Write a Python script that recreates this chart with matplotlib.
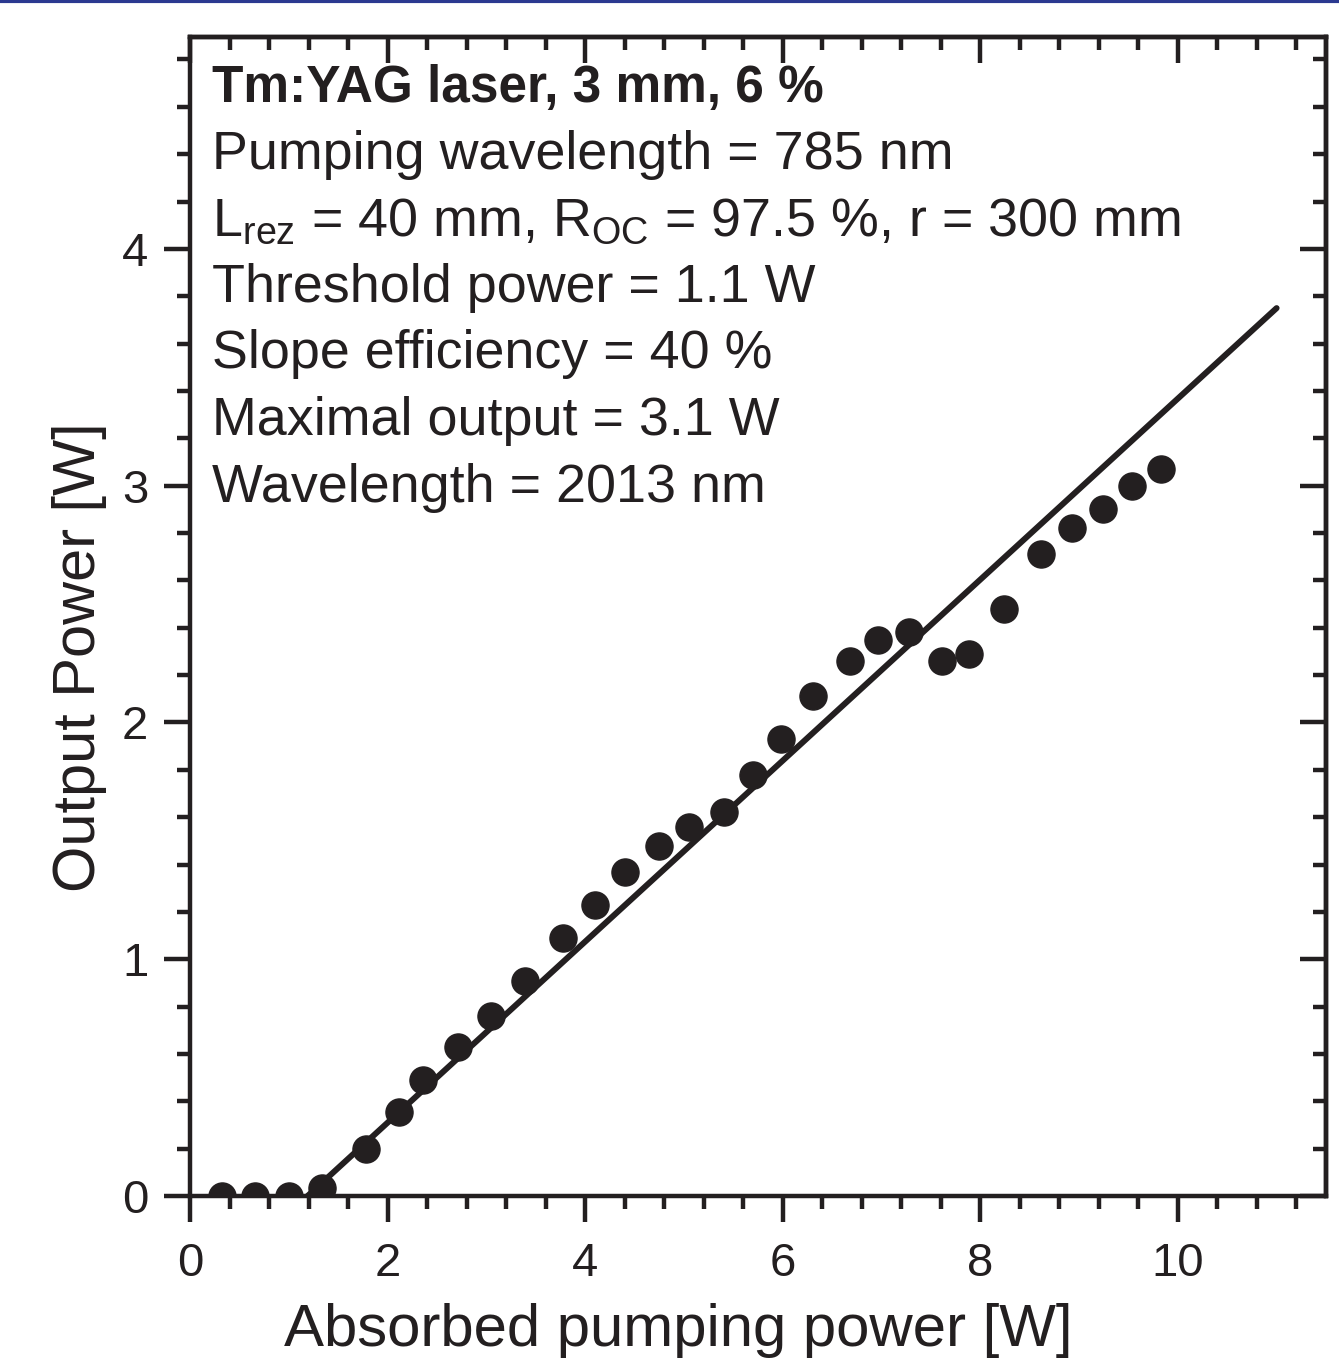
import matplotlib
matplotlib.use('Agg')
import matplotlib.pyplot as plt
from matplotlib.ticker import MultipleLocator
from matplotlib.lines import Line2D

plt.rcParams['font.family'] = ['Liberation Sans', 'DejaVu Sans']
plt.rcParams['mathtext.fontset'] = 'custom'
plt.rcParams['mathtext.rm'] = 'Liberation Sans'
plt.rcParams['mathtext.it'] = 'Liberation Sans:italic'

# measured points
p_abs = [0.32, 0.66, 1.0, 1.34, 1.78, 2.12, 2.36, 2.71, 3.05, 3.39, 3.78, 4.10,
         4.40, 4.75, 5.05, 5.41, 5.70, 5.98, 6.31, 6.68, 6.96, 7.28, 7.61, 7.89,
         8.24, 8.61, 8.93, 9.24, 9.54, 9.83]
p_out = [0.0, 0.0, 0.0, 0.035, 0.20, 0.355, 0.49, 0.63, 0.76, 0.91, 1.09, 1.23,
         1.37, 1.48, 1.56, 1.62, 1.78, 1.93, 2.11, 2.26, 2.35, 2.38, 2.26, 2.29,
         2.48, 2.71, 2.82, 2.90, 3.00, 3.07]

# linear fit
fit_x = [1.19, 11.0]
fit_y = [0.0, 3.75]

info = ['Pumping wavelength = 785 nm',
        r'L$_{\mathregular{rez}}$ = 40 mm, R$_{\mathregular{OC}}$ = 97.5 %, r = 300 mm',
        'Threshold power = 1.1 W',
        'Slope efficiency = 40 %',
        'Maximal output = 3.1 W',
        'Wavelength = 2013 nm']

ink = '#231f20'

fig = plt.figure(figsize=(13.39, 13.61), dpi=100)
ax = fig.add_axes([190/1339, 1 - 1196/1361, (1326-190)/1339, (1196-37)/1361])

ax.plot(fit_x, fit_y, color=ink, lw=4.3, solid_capstyle='round', zorder=2)
ax.plot(p_abs, p_out, 'o', color=ink, ms=19.5, zorder=3)

ax.set_xlim(0, 11.5)
ax.set_ylim(0, 4.895)
ax.xaxis.set_major_locator(MultipleLocator(2))
ax.xaxis.set_minor_locator(MultipleLocator(0.4))
ax.yaxis.set_major_locator(MultipleLocator(1))
ax.yaxis.set_minor_locator(MultipleLocator(0.2))

for s in ax.spines.values():
    s.set_linewidth(3.2)
    s.set_color(ink)

ax.tick_params(which='both', direction='out', width=3.2, color=ink,
               labelsize=34, labelcolor=ink)
ax.tick_params(axis='x', pad=14)
ax.tick_params(axis='y', pad=11)
ax.tick_params(which='major', length=19)
ax.tick_params(which='minor', length=9.5)

top = ax.secondary_xaxis('top')
top.xaxis.set_major_locator(MultipleLocator(2))
top.xaxis.set_minor_locator(MultipleLocator(0.4))
top.tick_params(which='both', direction='in', width=3.2, color=ink, labeltop=False)
top.tick_params(which='major', length=19)
top.tick_params(which='minor', length=9.5)
top.spines['top'].set_linewidth(3.2)
top.spines['top'].set_color(ink)

right = ax.secondary_yaxis('right')
right.yaxis.set_major_locator(MultipleLocator(1))
right.yaxis.set_minor_locator(MultipleLocator(0.2))
right.tick_params(which='both', direction='in', width=3.2, color=ink, labelright=False)
right.tick_params(which='major', length=19)
right.tick_params(which='minor', length=9.5)
right.spines['right'].set_linewidth(3.2)
right.spines['right'].set_color(ink)

ax.set_xlabel('Absorbed pumping power [W]', fontsize=43.2, color=ink, labelpad=6)
ax.xaxis.set_label_coords(0.4296, -0.092)
ax.set_ylabel('Output Power [W]', fontsize=42.8, color=ink)
ax.yaxis.set_label_coords(-0.073, 0.465)

ax.text(0.0194, 0.944, 'Tm:YAG laser, 3 mm, 6 %', transform=ax.transAxes,
        fontsize=37, fontweight='bold', color=ink, va='baseline')
y0 = 0.944
for i, line in enumerate(info):
    ax.text(0.0194, y0 - (i + 1) * 0.0575, line, transform=ax.transAxes,
            fontsize=38.8, color=ink, va='baseline')

# blue rule along the top edge
fig.add_artist(Line2D([0, 1], [0.9995, 0.9995], transform=fig.transFigure,
                      color='#2b3990', lw=3))

fig.savefig('out.png', dpi=100)
